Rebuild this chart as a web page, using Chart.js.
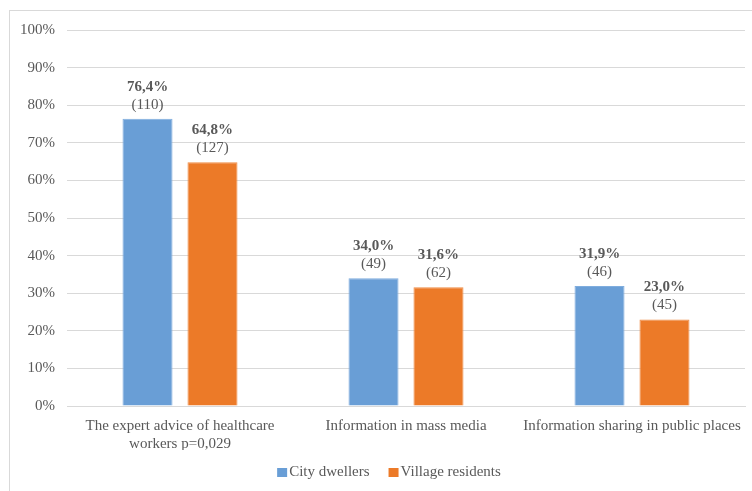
<!DOCTYPE html>
<html>
<head>
<meta charset="utf-8">
<script src="https://cdn.jsdelivr.net/npm/chart.js@4/dist/chart.umd.min.js"></script>
<style>
  html, body { margin: 0; padding: 0; background: #fff; }
  #wrap { position: absolute; left: 0; top: 0; width: 752px; height: 491px; }
  #frame { position: absolute; left: 9px; top: 10px; width: 760px; height: 500px; border: 1px solid #d9d9d9; }
</style>
</head>
<body>
<div id="frame"></div>
<div id="wrap"><canvas id="chart"></canvas></div>
<script>
// Data
const categories = [['The expert advice of healthcare', 'workers p=0,029'], 'Information in mass media', 'Information sharing in public places'];
const cityValues = [76.4, 34.0, 31.9];
const villageValues = [64.8, 31.6, 23.0];
const cityCounts = [110, 49, 46];
const villageCounts = [127, 62, 45];
const yTicks = [0, 10, 20, 30, 40, 50, 60, 70, 80, 90, 100];

const textColor = '#595959';
const fontFamily = '"Liberation Serif", "Times New Roman", serif';

// Two-line labels above bars: bold percent and count in brackets
const barLabels = {
    id: 'barLabels',
    afterDatasetsDraw(chart) {
        const ctx = chart.ctx;
        const counts = [cityCounts, villageCounts];
        ctx.save();
        ctx.fillStyle = textColor;
        ctx.textAlign = 'center';
        ctx.textBaseline = 'middle';
        chart.data.datasets.forEach((ds, i) => {
            chart.getDatasetMeta(i).data.forEach((bar, j) => {
                const pct = ds.data[j].toFixed(1).replace('.', ',') + '%';
                ctx.font = 'bold 15px ' + fontFamily;
                ctx.fillText(pct, bar.x, bar.y - 32);
                ctx.font = '15px ' + fontFamily;
                ctx.fillText('(' + counts[i][j] + ')', bar.x, bar.y - 14);
            });
        });
        ctx.restore();
    }
};

// Legend drawn Excel-style: small square, tight gap to text
const bottomLegend = {
    id: 'bottomLegend',
    afterDraw(chart) {
        const ctx = chart.ctx;
        const datasets = chart.data.datasets;
        const box = 10, boxGap = 2, itemGap = 19;
        ctx.save();
        ctx.font = '15px ' + fontFamily;
        ctx.textBaseline = 'middle';
        const widths = datasets.map(ds => box + boxGap + ctx.measureText(ds.label).width);
        const total = widths.reduce((a, b) => a + b, 0) + itemGap * (datasets.length - 1);
        let x = 389 - total / 2;
        const y = 472;
        datasets.forEach((ds, i) => {
            ctx.fillStyle = ds.backgroundColor;
            ctx.fillRect(x, y - 4, box, 9);
            ctx.fillStyle = textColor;
            ctx.fillText(ds.label, x + box + boxGap, y);
            x += widths[i] + itemGap;
        });
        ctx.restore();
    }
};

new Chart(document.getElementById('chart'), {
    type: 'bar',
    data: {
        labels: categories,
        datasets: [{
            label: 'City dwellers',
            data: cityValues,
            backgroundColor: '#699ed6',
            borderColor: '#7fadde',
            borderWidth: 1
        }, {
            label: 'Village residents',
            data: villageValues,
            backgroundColor: '#ec7a28',
            borderColor: '#f08c44',
            borderWidth: 1
        }]
    },
    options: {
        responsive: true,
        maintainAspectRatio: false,
        animation: false,
        datasets: {
            bar: { categoryPercentage: 0.575, barPercentage: 0.77 }
        },
        layout: { padding: { left: 0, right: 7, top: 30, bottom: 41 } },
        scales: {
            x: {
                clip: false,
                grid: { display: false },
                border: { color: '#d9d9d9' },
                afterFit: (scale) => { scale.height -= 6; },
                ticks: { color: textColor, font: { family: fontFamily, size: 15 }, maxRotation: 0, padding: 3 }
            },
            y: {
                min: 0,
                max: 100,
                afterFit: (scale) => { scale.width = 67; },
                afterBuildTicks: (scale) => { scale.ticks = yTicks.map(v => ({ value: v })); },
                grid: { color: '#d9d9d9', drawTicks: false },
                border: { display: false },
                ticks: {
                    color: textColor,
                    font: { family: fontFamily, size: 15 },
                    padding: 12,
                    callback: (v) => v + '%'
                }
            }
        },
        plugins: {
            legend: { display: false },
            tooltip: { enabled: false }
        }
    },
    plugins: [barLabels, bottomLegend]
});
</script>
</body>
</html>
